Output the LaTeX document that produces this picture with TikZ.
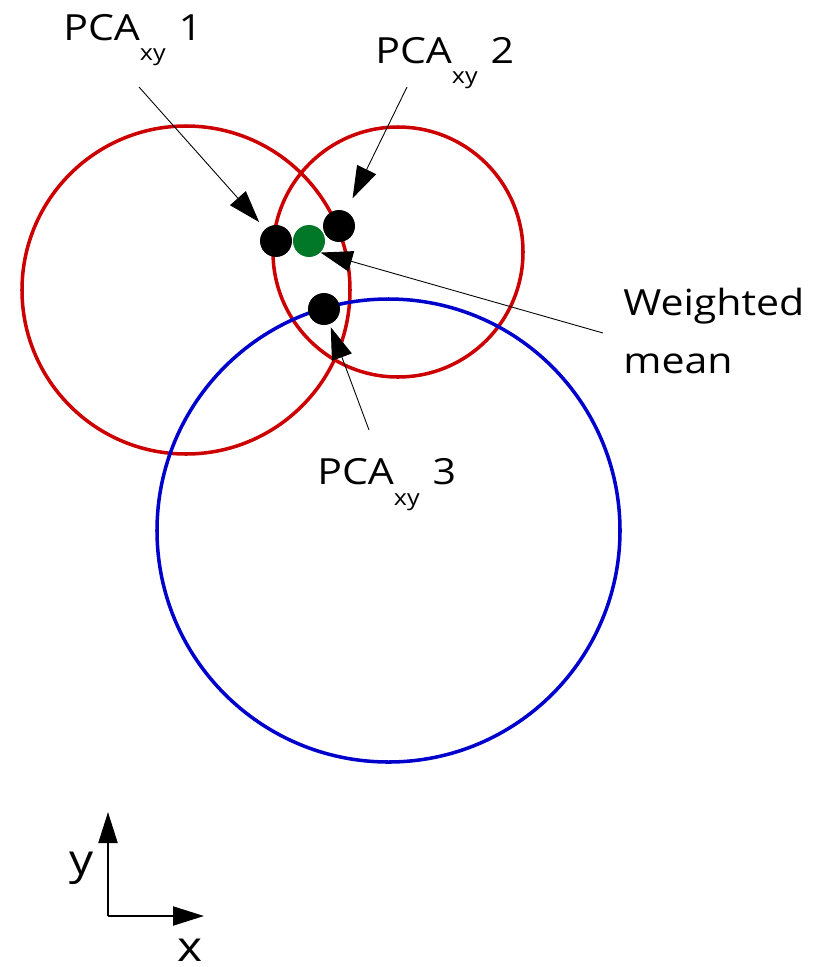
\documentclass[tikz,border=0pt]{standalone}
\usepackage{fontspec}
\setmainfont{Open Sans}
\newfontfamily\labelfont[FakeStretch=1.14]{Open Sans}
\usetikzlibrary{arrows.meta}
\definecolor{ringred}{RGB}{204,0,0}
\definecolor{ringblue}{RGB}{0,0,204}
\definecolor{meangreen}{RGB}{0,120,40}
\tikzset{
  ring/.style={line width=2pt},
  pcadot/.style={circle,fill=black,inner sep=0pt,minimum size=0.64cm},
  meandot/.style={pcadot,fill=meangreen},
  pointer/.style={-{Triangle[length=0.64cm,width=0.42cm]},line width=0.5pt},
  axisarrow/.style={-{Triangle[length=0.62cm,width=0.38cm]},line width=1.2pt},
  labeltext/.style={font=\labelfont\fontsize{20.5pt}{33pt}\selectfont,inner sep=0pt,anchor=base west},
  axislabel/.style={font=\labelfont\fontsize{23.9pt}{30pt}\selectfont,inner sep=0pt,anchor=base}
}
\newcommand{\pcalabel}[1]{PCA\raisebox{-0.42cm}{\fontsize{12.5pt}{14pt}\selectfont xy}\hspace{0.26cm}#1}

\begin{document}
\begin{tikzpicture}[x=0.02cm,y=-0.02cm]
  \useasboundingbox (0,0) rectangle (821,967);
  % search rings
  \draw[ring,ringred] (186,290) circle (164);
  \draw[ring,ringred] (398,252) circle (125);
  \draw[ring,ringblue] (388.5,530.5) circle (231.5);
  % estimates and their mean
  \node[pcadot] (p1) at (276,241) {};
  \node[meandot] (wm) at (309,241) {};
  \node[pcadot] (p2) at (339,226) {};
  \node[pcadot] (p3) at (324,309) {};
  % labels
  \node[labeltext] (l1) at (63,40) {\pcalabel{1}};
  \node[labeltext] (l2) at (375,63) {\pcalabel{2}};
  \node[labeltext] (l3) at (317,484) {\pcalabel{3}};
  \node[labeltext,align=left] (lw) at (623,373) {Weighted\\mean};
  \coordinate (t1) at (139,87);
  \coordinate (t2) at (407,87);
  \coordinate (t3) at (369,430);
  \coordinate (tw) at (603,333);
  \draw[pointer,shorten >=0.18cm] (t1) -- (p1);
  \draw[pointer,shorten >=0.29cm] (t2) -- (p2);
  \draw[pointer,shorten >=0.06cm] (t3) -- (p3);
  \draw[pointer] (tw) -- (wm.south east);
  % axes
  \coordinate (o) at (108,916);
  \coordinate (ytip) at (108,812);
  \coordinate (xtip) at (204,916);
  \draw[axisarrow] (o) -- (ytip);
  \draw[axisarrow] (o) -- (xtip);
  \node[axislabel] (ylab) at (81.5,874) {y};
  \node[axislabel] (xlab) at (190,961) {x};
\end{tikzpicture}
\end{document}
